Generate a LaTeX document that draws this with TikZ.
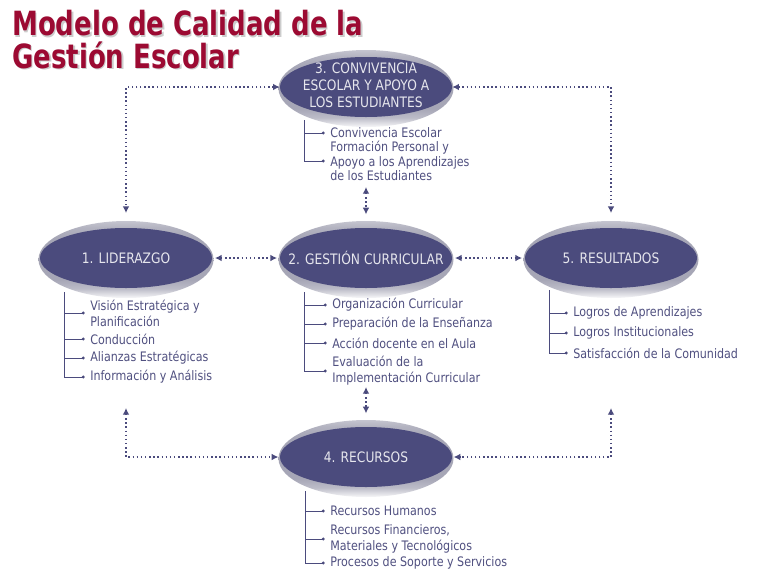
\documentclass[tikz,border=0pt]{standalone}
\usepackage{fontspec}
\setmainfont{DejaVu Sans}[FakeStretch=0.85]
\newfontfamily\fuentetitulo{DejaVu Sans}[FakeStretch=0.78]
\usetikzlibrary{arrows.meta,shapes.geometric,positioning}

\definecolor{azul}{HTML}{4B4B7D}
\definecolor{texto}{HTML}{505080}
\definecolor{plata}{HTML}{A6A6B6}
\definecolor{rojo}{HTML}{9C0A32}

% borde plateado de las elipses
\pgfdeclareverticalshading{borde}{100bp}{color(0bp)=(white); color(25bp)=(white!92!plata);
  color(31bp)=(plata!75!white); color(37bp)=(plata); color(64bp)=(plata);
  color(71bp)=(plata!85!white); color(75bp)=(plata!65!white); color(100bp)=(plata!65!white)}

\tikzset{
  eje/.style={ellipse, fill=azul, minimum width=129pt, minimum height=45pt, inner sep=0pt},
  borde/.style={shading=borde},
  rotulo/.style={text=white!86!azul, align=center, inner sep=0pt, font=\fontsize{10.8}{12.6}\selectfont},
  flecha/.style={azul, line width=1.1pt, dotted, {Latex[length=5pt,width=5pt]}-{Latex[length=5pt,width=5pt]}},
  item/.style={anchor=west, text=texto, align=left, inner sep=0pt, font=\fontsize{9.8}{12}\selectfont},
  rama/.style={azul, line width=0.6pt},
  titulo/.style={anchor=north west, align=left, inner sep=0pt, font=\fuentetitulo\fontsize{25}{24.5}\selectfont\bfseries},
}

\begin{document}
\begin{tikzpicture}[x=0.75pt,y=-0.75pt]
\useasboundingbox[fill=white] (0,0) rectangle (768,576);

    %Titulo
    \node[titulo,text=gray!40] (tit-s) at (13.5,11.5) {Modelo de Calidad de la\\Gestión Escolar};
    \node[titulo,text=rojo] (tit) at (12,10) {Modelo de Calidad de la\\Gestión Escolar};

    %Ejes del modelo (borde plateado y elipse)
    \foreach \n/\p in {3/{366,87}, 1/{126,258}, 2/{366,258}, 5/{611,258}, 4/{366,457}}{
        \shade[borde] (\p) ++(0,1.5) ellipse [x radius=87.5, y radius=38.5];
        \node[eje] (n\n) at (\p) {};
    }
    \node[rotulo] (t3) at ([yshift=1.5pt]n3) {3. CONVIVENCIA\\ESCOLAR Y APOYO A\\LOS ESTUDIANTES};
    \node[rotulo] (t1) at (n1) {1. LIDERAZGO};
    \node[rotulo] (t2) at (n2) {2. GESTIÓN CURRICULAR};
    \node[rotulo] (t5) at (n5) {5. RESULTADOS};
    \node[rotulo] (t4) at (n4) {4. RECURSOS};

    %Flechas punteadas
    \coordinate (c3) at (366,187);
    \coordinate (c2) at (366,387);
    \coordinate (c1) at (126,408);
    \coordinate (c5) at (611,408);
    \draw[flecha] (n3.west) -| ([yshift=11pt]n1.north);
    \draw[flecha] (n3.east) -| ([yshift=11pt]n5.north);
    \draw[flecha] ([xshift=2pt]n1.east) -- ([xshift=-2pt]n2.west);
    \draw[flecha] ([xshift=2pt]n2.east) -- ([xshift=-2pt]n5.west);
    \draw[flecha] (c3) -- ([yshift=10pt]n2.north);
    \draw[flecha] (c2) -- ([yshift=10pt]n4.north);
    \draw[flecha] (c1) |- ([xshift=-1pt]n4.west);
    \draw[flecha] (c5) |- ([xshift=1pt]n4.east);

    %Listas
    \coordinate (v3) at (304,120);
    \foreach \y/\t [count=\i] in {133/{Convivencia Escolar}, 161/{Formación Personal y\\Apoyo a los Aprendizajes\\de los Estudiantes}}{
        \node[item,font=\fontsize{9.8}{11}\selectfont] (e\i) at (330,\y) {\t};
        \draw[rama] (v3 |- e\i.west) -- ([xshift=-5pt]e\i.west);
        \fill[azul] ([xshift=-5pt]e\i.west) circle (1.2pt);
    }
    \draw[rama] (v3) -- (v3 |- e2.west);

    \coordinate (v1) at (64,292);
    \foreach \y/\t [count=\i] in {313/{Visión Estratégica y\\Planificación}, 339/{Conducción}, 358/{Alianzas Estratégicas}, 377/{Información y Análisis}}{
        \node[item] (a\i) at (90,\y) {\t};
        \draw[rama] (v1 |- a\i.west) -- ([xshift=-5pt]a\i.west);
        \fill[azul] ([xshift=-5pt]a\i.west) circle (1.2pt);
    }
    \draw[rama] (v1) -- (v1 |- a4.west);

    \coordinate (v2) at (304,292);
    \foreach \y/\t [count=\i] in {305/{Organización Curricular}, 324/{Preparación de la Enseñanza}, 343/{Acción docente en el Aula}, 371/{Evaluación de la\\Implementación Curricular}}{
        \node[item] (g\i) at (332,\y) {\t};
        \draw[rama] (v2 |- g\i.west) -- ([xshift=-5pt]g\i.west);
        \fill[azul] ([xshift=-5pt]g\i.west) circle (1.2pt);
    }
    \draw[rama] (v2) -- (v2 |- g4.west);

    \coordinate (v5) at (549,290);
    \foreach \y/\t [count=\i] in {313/{Logros de Aprendizajes}, 333/{Logros Institucionales}, 353/{Satisfacción de la Comunidad}}{
        \node[item] (r\i) at (573,\y) {\t};
        \draw[rama] (v5 |- r\i.west) -- ([xshift=-5pt]r\i.west);
        \fill[azul] ([xshift=-5pt]r\i.west) circle (1.2pt);
    }
    \draw[rama] (v5) -- (v5 |- r3.west);

    \coordinate (v4) at (305,491);
    \foreach \y/\t [count=\i] in {511/{Recursos Humanos}, 539/{Recursos Financieros,\\Materiales y Tecnológicos}, 563/{Procesos de Soporte y Servicios}}{
        \node[item] (s\i) at (330,\y) {\t};
        \draw[rama] (v4 |- s\i.west) -- ([xshift=-5pt]s\i.west);
        \fill[azul] ([xshift=-5pt]s\i.west) circle (1.2pt);
    }
    \draw[rama] (v4) -- (v4 |- s3.west);
\end{tikzpicture}
\end{document}
